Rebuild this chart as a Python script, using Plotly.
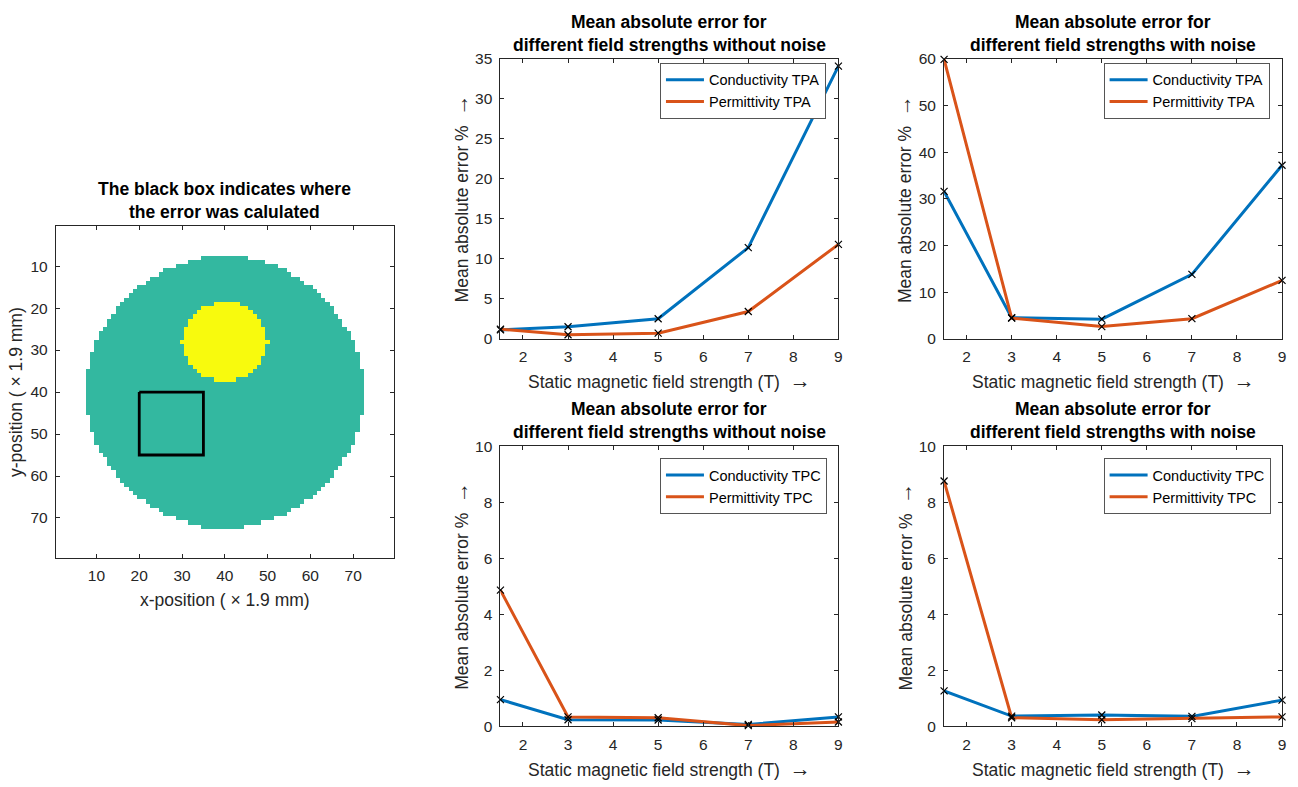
import numpy as np
import plotly.graph_objects as go

W, H = 1298, 787
FONT = "Liberation Sans, Arial, Helvetica, sans-serif"
AX_COLOR = "#262626"
BLUE = "#0072BD"
ORANGE = "#D95319"
TEAL = "rgb(51,184,160)"
YELLOW = "rgb(248,250,13)"

# ---------------- data ----------------
field_T = [1.5, 3, 5, 7, 9]

tpa_cond_clean = [1.1, 1.5, 2.5, 11.4, 34.1]
tpa_perm_clean = [1.2, 0.5, 0.7, 3.4, 11.8]
tpa_cond_noisy = [31.6, 4.5, 4.2, 13.8, 37.2]
tpa_perm_noisy = [59.9, 4.4, 2.6, 4.3, 12.5]
tpc_cond_clean = [0.95, 0.23, 0.22, 0.06, 0.33]
tpc_perm_clean = [4.86, 0.33, 0.30, 0.02, 0.15]
tpc_cond_noisy = [1.26, 0.36, 0.40, 0.35, 0.93]
tpc_perm_noisy = [8.76, 0.30, 0.23, 0.27, 0.33]

# phantom (79 x 79 voxels): per-row first/last column of the body and the insert
grid_n = 79
body_rows = list(range(8, 73))
body_first = [35, 32, 29, 26, 25, 23, 22, 20, 19, 18, 17, 16, 15, 15, 14, 13, 13, 12,
              11, 11, 10, 10, 10, 9, 9, 9, 9,
              8, 8, 8, 8, 8, 8, 8, 8, 8, 8, 8,
              9, 9, 9, 9, 10, 10, 10, 11, 11, 12, 13, 13, 14, 15, 15, 16, 17, 18,
              19, 20, 22, 23, 25, 26, 29, 32, 35]
body_last = [45, 49, 52, 54, 55, 57, 58, 60, 61, 62, 63, 64, 65, 65, 66, 67, 67, 68,
             69, 69, 70, 70, 70, 71, 71, 71, 71,
             72, 72, 72, 72, 72, 72, 72, 72, 72, 72, 72,
             71, 71, 71, 71, 70, 70, 70, 69, 69, 68, 67, 67, 66, 65, 65, 64, 63, 62,
             61, 60, 58, 57, 55, 54, 51, 48, 44]
insert_rows = list(range(19, 38))
insert_first = [38, 35, 34, 33, 32, 32, 31, 31, 31, 30, 31, 31, 31, 32, 32, 33, 34, 35, 38]
insert_last = [43, 45, 46, 47, 48, 48, 49, 49, 49, 50, 49, 49, 49, 48, 48, 47, 46, 45, 42]

# region of interest for the error evaluation
roi_x = [20, 35]
roi_y = [40, 55]

field_ticks = [2, 3, 4, 5, 6, 7, 8, 9]
pos_ticks = [10, 20, 30, 40, 50, 60, 70]

title_clean = ["Mean absolute error for", "different field strengths without noise"]
title_noisy = ["Mean absolute error for", "different field strengths with noise"]
title_img = ["The black box indicates where", "the error was calulated"]
ARROW = "<span style='font-size:21px'>\u2192</span>"
xlabel = "Static magnetic field strength (T)  " + ARROW
ylabel = "Mean absolute error %  " + ARROW

# ---------------- build phantom image ----------------
phantom = np.zeros((grid_n, grid_n))
for r, a, b in zip(body_rows, body_first, body_last):
    phantom[r - 1, a - 1:b] = 1
for r, a, b in zip(insert_rows, insert_first, insert_last):
    phantom[r - 1, a - 1:b] = 2

fig = go.Figure()

# panel boxes in page pixels: left, right, top, bottom
panels = {
    "img": (56, 395, 222, 561),
    "tl": (502, 841, 51, 337),
    "tr": (947, 1286, 51, 337),
    "bl": (502, 841, 447, 733),
    "br": (947, 1286, 447, 733),
}


def dom_x(p):
    return [p[0] / W, p[1] / W]


def dom_y(p):
    return [1 - p[3] / H, 1 - p[2] / H]


axis_style = dict(
    showline=True, linecolor=AX_COLOR, linewidth=1, mirror="allticks",
    ticks="inside", ticklen=4, tickwidth=1, tickcolor=AX_COLOR,
    showgrid=False, zeroline=False,
    tickfont=dict(family=FONT, size=15.5, color=AX_COLOR),
)

# phantom image
cells = list(range(1, grid_n + 1))
fig.add_trace(go.Heatmap(
    z=phantom, x=cells, y=cells, zmin=0, zmax=2, zsmooth=False,
    colorscale=[[0, "white"], [0.33, "white"], [0.33, TEAL], [0.67, TEAL],
                [0.67, YELLOW], [1, YELLOW]],
    showscale=False, hoverinfo="skip", xaxis="x", yaxis="y",
))
fig.add_trace(go.Scatter(
    x=[roi_x[0], roi_x[1], roi_x[1], roi_x[0], roi_x[0]],
    y=[roi_y[0], roi_y[0], roi_y[1], roi_y[1], roi_y[0]],
    mode="lines", line=dict(color="black", width=2.8),
    showlegend=False, xaxis="x", yaxis="y",
))

line_panels = [
    ("tl", "2", "legend", tpa_cond_clean, tpa_perm_clean, "TPA", 35, 5, title_clean),
    ("tr", "3", "legend2", tpa_cond_noisy, tpa_perm_noisy, "TPA", 60, 10, title_noisy),
    ("bl", "4", "legend3", tpc_cond_clean, tpc_perm_clean, "TPC", 10, 2, title_clean),
    ("br", "5", "legend4", tpc_cond_noisy, tpc_perm_noisy, "TPC", 10, 2, title_noisy),
]

layout_axes = {}
annotations = []


def add_titles(p, lines):
    xc = (p[0] + p[1]) / 2 / W
    for text, off in zip(lines, (38, 14.5)):
        annotations.append(dict(
            text="<b>%s</b>" % text, x=xc, y=1 - (p[2] - off) / H,
            xref="paper", yref="paper", xanchor="center", yanchor="middle",
            showarrow=False, font=dict(family=FONT, size=17.5, color="black"),
        ))


def add_labels(p, xl, yl):
    annotations.append(dict(
        text=xl, x=(p[0] + p[1]) / 2 / W, y=1 - (p[3] + 43) / H,
        xref="paper", yref="paper", xanchor="center", yanchor="middle",
        showarrow=False, font=dict(family=FONT, size=17.5, color=AX_COLOR),
    ))
    annotations.append(dict(
        text=yl, x=(p[0] - 40) / W, y=1 - (p[2] + p[3]) / 2 / H,
        xref="paper", yref="paper", xanchor="center", yanchor="middle",
        textangle=-90, showarrow=False,
        font=dict(family=FONT, size=17.5, color=AX_COLOR),
    ))


for key, ax, leg, cond, perm, method, ymax, dy, title in line_panels:
    p = panels[key]
    for vals, name, color in ((cond, "Conductivity " + method, BLUE),
                              (perm, "Permittivity " + method, ORANGE)):
        fig.add_trace(go.Scatter(
            x=field_T, y=vals, mode="lines", name=name,
            line=dict(color=color, width=3), legend=leg,
            xaxis="x" + ax, yaxis="y" + ax,
        ))
    for vals in (cond, perm):
        fig.add_trace(go.Scatter(
            x=field_T, y=vals, mode="markers", showlegend=False,
            marker=dict(symbol="x-thin", size=7, color="black",
                        line=dict(color="black", width=1.2)),
            cliponaxis=False, xaxis="x" + ax, yaxis="y" + ax,
        ))
    layout_axes["xaxis" + ax] = dict(
        axis_style, domain=dom_x(p), anchor="y" + ax, range=[1.5, 9],
        tickmode="array", tickvals=field_ticks, ticklabelstandoff=4,
    )
    layout_axes["yaxis" + ax] = dict(
        axis_style, domain=dom_y(p), anchor="x" + ax, range=[0, ymax],
        dtick=dy, tick0=0, ticklabelstandoff=4,
    )
    add_titles(p, title)
    add_labels(p, xlabel, ylabel)

p = panels["img"]
layout_axes["xaxis"] = dict(
    axis_style, domain=dom_x(p), anchor="y", range=[0.5, 79.5],
    tickmode="array", tickvals=pos_ticks, ticklabelstandoff=4,
)
layout_axes["yaxis"] = dict(
    axis_style, domain=dom_y(p), anchor="x", range=[79.5, 0.5],
    tickmode="array", tickvals=pos_ticks, ticklabelstandoff=4,
)
add_titles(p, title_img)
add_labels(p, "x-position ( \u00d7 1.9 mm)", "y-position ( \u00d7 1.9 mm)")

legend_style = dict(
    xanchor="left", yanchor="top", bgcolor="white",
    bordercolor="#555555", borderwidth=1, itemwidth=38,
    font=dict(family=FONT, size=14.5, color="black"),
    tracegroupgap=0,
)
legends = {
    "legend": (662, 55),
    "legend2": (1107, 55),
    "legend3": (662, 459),
    "legend4": (1107, 459),
}
for name, (lx, ly) in legends.items():
    layout_axes[name] = dict(legend_style, x=lx / W, y=1 - ly / H)

fig.update_layout(
    width=W, height=H,
    margin=dict(l=0, r=0, t=0, b=0),
    paper_bgcolor="white", plot_bgcolor="white",
    font=dict(family=FONT, color=AX_COLOR),
    annotations=annotations,
    **layout_axes,
)

fig.write_html("out.html")
